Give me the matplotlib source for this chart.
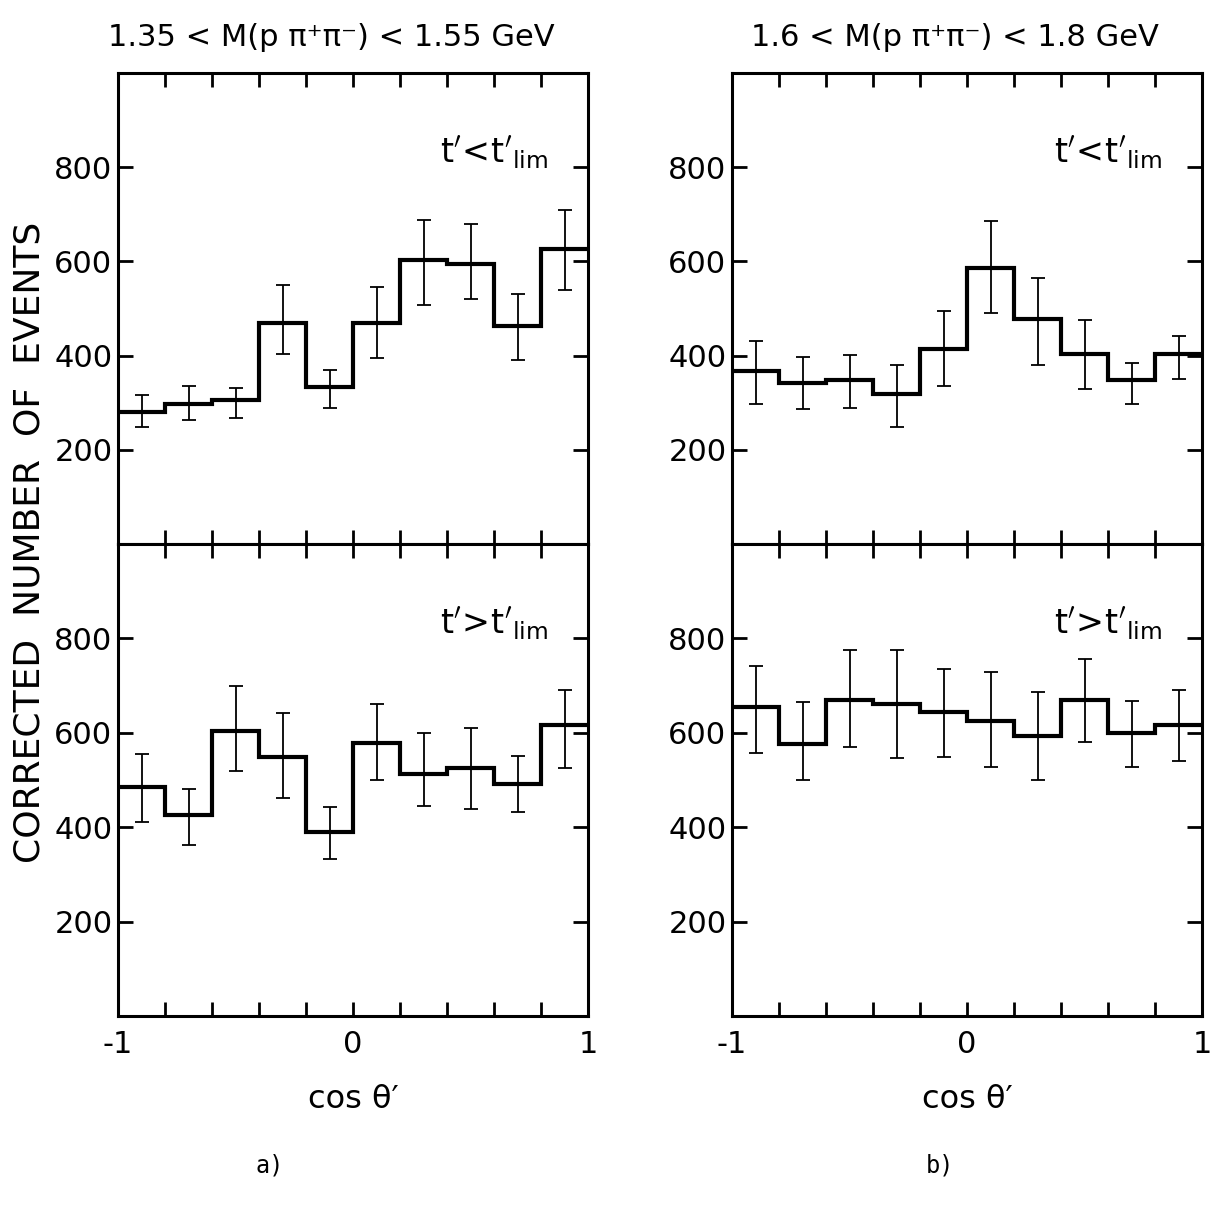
import matplotlib
matplotlib.use("Agg")
import matplotlib.pyplot as plt
import numpy as np

plt.rcParams['font.family'] = ['DejaVu Sans']
plt.rcParams['mathtext.fontset'] = 'dejavusans'
plt.rcParams['axes.unicode_minus'] = False

# cos theta' bins
edges = np.linspace(-1, 1, 11)
centers = 0.5 * (edges[:-1] + edges[1:])

# 1.35 < M < 1.55 GeV, t' < t'lim
a_low = np.array([280, 298, 305, 470, 333, 470, 603, 594, 463, 626])
a_low_lo = np.array([248, 264, 268, 403, 288, 395, 507, 520, 390, 539])
a_low_hi = np.array([316, 335, 331, 549, 370, 546, 688, 680, 530, 709])

# 1.35 < M < 1.55 GeV, t' > t'lim
a_high = np.array([485, 426, 604, 548, 390, 578, 513, 525, 492, 616])
a_high_lo = np.array([412, 363, 519, 462, 333, 499, 444, 439, 433, 525])
a_high_hi = np.array([555, 481, 699, 641, 442, 661, 600, 610, 550, 691])

# 1.6 < M < 1.8 GeV, t' < t'lim
b_low = np.array([367, 342, 349, 319, 414, 587, 477, 403, 349, 403])
b_low_lo = np.array([297, 287, 289, 248, 335, 490, 380, 329, 298, 351])
b_low_hi = np.array([432, 397, 401, 381, 495, 685, 564, 475, 385, 441])

# 1.6 < M < 1.8 GeV, t' > t'lim
b_high = np.array([655, 577, 670, 660, 644, 626, 593, 670, 599, 617])
b_high_lo = np.array([558, 500, 569, 547, 548, 528, 501, 581, 528, 540])
b_high_hi = np.array([741, 665, 776, 776, 736, 728, 687, 756, 667, 690])

titles = ["1.35 < M(p π⁺π⁻) < 1.55 GeV",
          "1.6 < M(p π⁺π⁻) < 1.8 GeV"]
cut_labels = [r"$\mathrm{t}'\!<\!\mathrm{t}'_{\mathrm{lim}}$",
              r"$\mathrm{t}'\!>\!\mathrm{t}'_{\mathrm{lim}}$"]
yticks = [200, 400, 600, 800]

W, H = 1218, 1205
fig = plt.figure(figsize=(W / 100, H / 100), dpi=100)

def make_axes(x0, x1, y0, y1):
    return fig.add_axes([x0 / W, (H - y1) / H, (x1 - x0) / W, (y1 - y0) / H])

def draw_panel(ax, vals, lo, hi, label, bottom_labels):
    ax.stairs(vals, edges, baseline=None, color='black', linewidth=3.0)
    ax.errorbar(centers, vals, yerr=[vals - lo, hi - vals], fmt='none',
                ecolor='black', elinewidth=1.3, capsize=5, capthick=1.3)
    ax.set_xlim(-1, 1)
    ax.set_ylim(0, 1000)
    ax.set_yticks(yticks)
    ax.set_xticks([-1, 0, 1])
    ax.set_xticks(edges[1:-1], minor=True)
    for s in ax.spines.values():
        s.set_linewidth(2.2)
    ax.tick_params(axis='both', which='both', direction='in', width=2.0,
                   top=True, right=True, labelsize=22)
    ax.tick_params(axis='x', which='both', length=10, pad=10)
    ax.tick_params(axis='y', which='both', length=11, pad=4)
    if not bottom_labels:
        ax.tick_params(axis='x', which='both', labelbottom=False)
    ax.text(0.915, 0.87, label, transform=ax.transAxes, ha='right', va='top',
            fontsize=24)

cols = [(118, 588, a_low, a_low_lo, a_low_hi, a_high, a_high_lo, a_high_hi),
        (732, 1202, b_low, b_low_lo, b_low_hi, b_high, b_high_lo, b_high_hi)]

title_x = [331, 955]
for i, (x0, x1, v1, l1, h1, v2, l2, h2) in enumerate(cols):
    ax_top = make_axes(x0, x1, 73, 544)
    ax_bot = make_axes(x0, x1, 544, 1016)
    draw_panel(ax_top, v1, l1, h1, cut_labels[0], False)
    draw_panel(ax_bot, v2, l2, h2, cut_labels[1], True)
    xc = 0.5 * (x0 + x1) / W
    fig.text(title_x[i] / W, 1 - 37 / H, titles[i],
             ha='center', va='center', fontsize=22)
    fig.text(xc, 1 - 1100 / H, "cos θ′", ha='center', va='center', fontsize=23)

fig.text(30 / W, 1 - 542 / H, "CORRECTED  NUMBER  OF  EVENTS", rotation=90,
         ha='center', va='center', fontsize=26)
fig.text(270 / W, 1 - 1165 / H, "a)", ha='center', va='center',
         fontsize=17, family='DejaVu Sans Mono')
fig.text(940 / W, 1 - 1165 / H, "b)", ha='center', va='center',
         fontsize=17, family='DejaVu Sans Mono')

fig.savefig("out.png", dpi=100, facecolor='white')
